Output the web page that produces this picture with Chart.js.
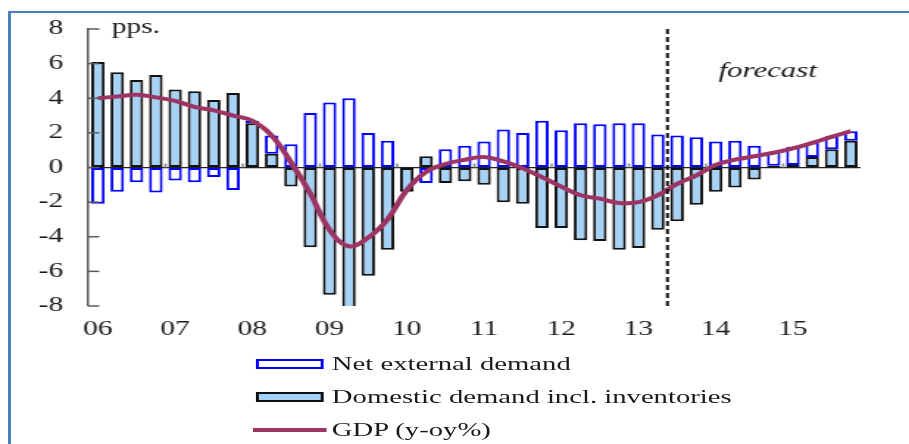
<!DOCTYPE html>
<html><head><meta charset="utf-8">
<script src="https://cdn.jsdelivr.net/npm/chart.js@4.4.1/dist/chart.umd.min.js"></script>
<style>
html,body{margin:0;padding:0;background:#fff;overflow:hidden;width:909px;height:444px;}
#frame{position:absolute;left:8px;top:11px;width:1000px;height:500px;border-top:2px solid #4f81bd;border-left:3px solid #4f81bd;}
#stage{position:absolute;left:0;top:0;width:618px;height:444px;transform:scaleX(1.4709);transform-origin:0 0;}
#c{position:absolute;left:0;top:0;}
.lg{position:absolute;font-family:'Liberation Serif','Times New Roman',serif;font-size:19.5px;line-height:19.5px;color:#1a1a1a;white-space:nowrap;}
.sw{position:absolute;box-sizing:border-box;}
</style></head><body>
<div id="frame"></div>
<div id="stage"><canvas id="c" width="618" height="444"></canvas><div id="legend"></div></div>
<script>
// ---------- data ----------
const quarters = [
 '2006Q1','2006Q2','2006Q3','2006Q4','2007Q1','2007Q2','2007Q3','2007Q4',
 '2008Q1','2008Q2','2008Q3','2008Q4','2009Q1','2009Q2','2009Q3','2009Q4',
 '2010Q1','2010Q2','2010Q3','2010Q4','2011Q1','2011Q2','2011Q3','2011Q4',
 '2012Q1','2012Q2','2012Q3','2012Q4','2013Q1','2013Q2','2013Q3','2013Q4',
 '2014Q1','2014Q2','2014Q3','2014Q4','2015Q1','2015Q2','2015Q3','2015Q4'
];
const yearTickLabels = ['06','07','08','09','10','11','12','13','14','15'];
const netExternal = [
 -2.1,-1.4,-0.85,-1.45,-0.75,-0.85,-0.55,-1.3,
 0.15,1.05,1.35,3.15,3.75,4.0,2.0,1.55,
 0.05,-0.9,1.05,1.25,1.5,2.2,2.0,2.7,
 2.15,2.55,2.5,2.55,2.55,1.9,1.85,1.75,
 1.5,1.55,1.25,0.8,1.05,0.85,0.75,0.55
];
const domestic = [
 6.1,5.5,5.05,5.35,4.5,4.4,3.9,4.3,
 2.55,0.8,-1.1,-4.6,-7.35,-8.6,-6.25,-4.75,
 -1.4,0.65,-0.9,-0.8,-1.0,-2.0,-2.1,-3.5,
 -3.5,-4.2,-4.25,-4.75,-4.65,-3.6,-3.1,-2.15,
 -1.4,-1.15,-0.7,0.1,0.15,0.6,1.05,1.55
];
const gdp = [
 4.0,4.1,4.2,4.05,3.85,3.5,3.3,3.0,
 2.7,1.85,0.3,-1.5,-3.6,-4.55,-4.05,-3.0,
 -1.3,-0.25,0.2,0.45,0.6,0.35,-0.05,-0.55,
 -1.1,-1.6,-1.8,-2.05,-2.0,-1.6,-0.95,-0.45,
 0.15,0.45,0.65,0.85,1.1,1.42,1.77,2.1
];
const forecastStart = '2013Q3';
const yMin = -8, yMax = 8, yStep = 2;

// ---------- styles ----------
const FONT = "'Liberation Serif','Times New Roman',serif";
const TXT = '#1a1a1a';
const GDP_COLOR = '#9c3464';
const DOM_FILL = '#a6d2f5';
const NET_BORDER = '#0000ff';

Chart.defaults.font.family = FONT;
Chart.defaults.color = TXT;

const overlay = {
  id: 'overlay',
  afterDatasetsDraw(chart) {
    const {ctx, chartArea: a, scales: {x, y}} = chart;
    ctx.save();
    // inward y ticks
    ctx.strokeStyle = '#5a5a5a'; ctx.lineWidth = 1.5;
    y.ticks.forEach(t => {
      const py = y.getPixelForValue(t.value);
      ctx.beginPath(); ctx.moveTo(a.left, py); ctx.lineTo(a.left + 7.5, py); ctx.stroke();
    });
    // year boundary marks on zero line
    const zy = y.getPixelForValue(0);
    ctx.strokeStyle = '#888'; ctx.lineWidth = 1.5;
    for (let i = 4; i < quarters.length; i += 4) {
      const px = (x.getPixelForValue(i - 1) + x.getPixelForValue(i)) / 2;
      ctx.beginPath(); ctx.moveTo(px, zy - 4); ctx.lineTo(px, zy); ctx.stroke();
    }
    // forecast divider
    const fi = quarters.indexOf(forecastStart);
    const fx = (x.getPixelForValue(fi - 1) + x.getPixelForValue(fi)) / 2;
    ctx.strokeStyle = '#111'; ctx.lineWidth = 2; ctx.setLineDash([5, 3]);
    ctx.beginPath(); ctx.moveTo(fx, a.top); ctx.lineTo(fx, a.bottom); ctx.stroke();
    ctx.setLineDash([]);
    // texts
    ctx.fillStyle = TXT; ctx.textBaseline = 'alphabetic'; ctx.textAlign = 'left';
    ctx.font = "20px " + FONT;
    ctx.fillText('pps.', 76, 32.5);
    ctx.font = "italic 21px " + FONT;
    ctx.fillText('forecast', 488.4, 76.7);
    ctx.restore();
  }
};

const chart = new Chart(document.getElementById('c'), {
  type: 'bar',
  data: {
    labels: quarters,
    datasets: [
      {type: 'line', label: 'GDP (y-oy%)', data: gdp, borderColor: GDP_COLOR, backgroundColor: GDP_COLOR,
       borderWidth: 4, pointRadius: 0, tension: 0.4, fill: false, stack: 'gdp', order: 0},
      {label: 'Domestic demand incl. inventories', data: domestic, backgroundColor: DOM_FILL,
       borderColor: '#111', borderWidth: 2, borderSkipped: false, stack: 'bars', order: 1},
      {label: 'Net external demand', data: netExternal, backgroundColor: '#ffffff',
       borderColor: NET_BORDER, borderWidth: 2, borderSkipped: false, stack: 'bars', order: 2}
    ]
  },
  options: {
    responsive: false, animation: false,
    layout: {padding: {left: 0, right: 33, top: 29, bottom: 0}},
    datasets: {bar: {barPercentage: 0.7, categoryPercentage: 1.0}},
    plugins: {legend: {display: false}, tooltip: {enabled: false}},
    scales: {
      x: {
        stacked: true,
        grid: {display: false, drawTicks: false},
        border: {display: false},
        ticks: {autoSkip: false, maxRotation: 0, minRotation: 0, padding: 12,
          font: {size: 20}, color: TXT,
          callback: (v, i) => (i % 4 === 0 ? yearTickLabels[i / 4] : '')},
        afterFit: s => { s.height = 138; }
      },
      y: {
        stacked: true, min: yMin, max: yMax,
        ticks: {stepSize: yStep, padding: 17, font: {size: 20}, color: TXT},
        grid: {drawTicks: false, lineWidth: 1.2,
          color: c => (c.tick && c.tick.value === 0 ? '#222' : 'rgba(0,0,0,0)')},
        border: {display: true, color: '#5a5a5a', width: 1.5},
        afterFit: s => { s.width = 60; }
      }
    }
  },
  plugins: [overlay]
});

// ---------- HTML legend ----------
(function () {
  const lg = document.getElementById('legend');
  const byLabel = l => chart.data.datasets.find(d => d.label === l);
  const rows = [
    {ds: byLabel('Net external demand'), sw: {left: 173.5, top: 359, w: 46.5, h: 9.5}, textTop: 353.7},
    {ds: byLabel('Domestic demand incl. inventories'), sw: {left: 173.5, top: 391.7, w: 46.5, h: 10}, textTop: 387},
    {ds: byLabel('GDP (y-oy%)'), sw: {left: 172.3, top: 427.5, w: 50, h: 4}, textTop: 419.7, line: true}
  ];
  rows.forEach(r => {
    const s = document.createElement('div');
    s.className = 'sw';
    Object.assign(s.style, {left: r.sw.left + 'px', top: r.sw.top + 'px', width: r.sw.w + 'px', height: r.sw.h + 'px'});
    if (r.line) {
      s.style.background = r.ds.borderColor;
    } else {
      s.style.background = r.ds.backgroundColor;
      s.style.border = r.ds.borderWidth + 'px solid ' + r.ds.borderColor;
    }
    lg.appendChild(s);
    const t = document.createElement('div');
    t.className = 'lg';
    t.style.left = '225.6px'; t.style.top = r.textTop + 'px';
    t.textContent = r.ds.label;
    lg.appendChild(t);
  });
})();
</script>
</body></html>
